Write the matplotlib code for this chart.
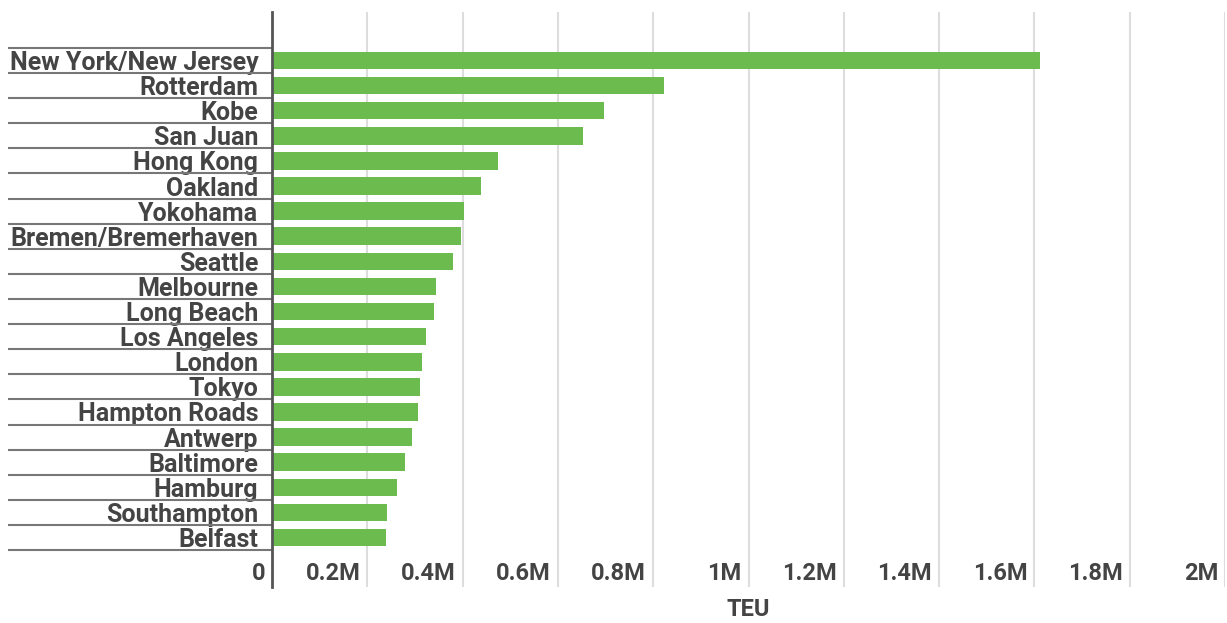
import matplotlib.pyplot as plt
import matplotlib.transforms as mtransforms

ports = ["New York/New Jersey", "Rotterdam", "Kobe", "San Juan", "Hong Kong",
         "Oakland", "Yokohama", "Bremen/Bremerhaven", "Seattle", "Melbourne",
         "Long Beach", "Los Angeles", "London", "Tokyo", "Hampton Roads",
         "Antwerp", "Baltimore", "Hamburg", "Southampton", "Belfast"]
teu = [1.612e6, 0.823e6, 0.697e6, 0.653e6, 0.474e6,
       0.439e6, 0.403e6, 0.397e6, 0.380e6, 0.344e6,
       0.340e6, 0.323e6, 0.315e6, 0.311e6, 0.306e6,
       0.294e6, 0.279e6, 0.262e6, 0.241e6, 0.239e6]
xticks = [0, 0.2e6, 0.4e6, 0.6e6, 0.8e6, 1.0e6, 1.2e6, 1.4e6, 1.6e6, 1.8e6, 2.0e6]
xtick_labels = ["0", "0.2M", "0.4M", "0.6M", "0.8M", "1M", "1.2M", "1.4M", "1.6M", "1.8M", "2M"]

text_col = "#444444"
plt.rcParams['font.family'] = ['Roboto', 'DejaVu Sans']

fig = plt.figure(figsize=(12.27, 6.23), dpi=100)
ax = fig.add_axes([0.2217, 0.0578, 0.7767, 0.9229])

pos = list(range(len(ports)))
ax.barh(pos, teu, height=0.7, color="#6bbb4f", zorder=3)
ax.set_ylim(20.97, -1.93)
ax.set_xlim(0, 2.0e6)

ax.set_xticks(xticks)
ax.set_xticklabels(xtick_labels, fontsize=17, fontweight='bold', color=text_col)
ax.tick_params(axis='x', length=0, pad=-18)
offset = mtransforms.ScaledTranslation(-7 / 100, 0, fig.dpi_scale_trans)
for lab in ax.get_xticklabels():
    lab.set_horizontalalignment('right')
    lab.set_transform(lab.get_transform() + offset)

ax.set_yticks(pos)
ax.set_yticklabels(ports, fontsize=18, fontweight='bold', color=text_col)
ax.tick_params(axis='y', length=0, pad=10)

ax.grid(axis='x', color="#dddddd", linewidth=1.5, zorder=0)
for s in ['top', 'right', 'bottom']:
    ax.spines[s].set_visible(False)
ax.spines['left'].set_color("#555555")
ax.spines['left'].set_linewidth(2)
ax.spines['left'].set_zorder(4)

# separator lines between category labels
bounds = [p - 0.5 for p in pos] + [pos[-1] + 0.5]
ax.hlines(bounds, -0.277, 0, transform=ax.get_yaxis_transform(),
          color="#777777", linewidth=1.5, clip_on=False)

ax.set_xlabel("TEU", fontsize=17, fontweight='bold', color=text_col)
ax.xaxis.set_label_coords(0.5, -0.02)

fig.savefig("out.png", dpi=100)
